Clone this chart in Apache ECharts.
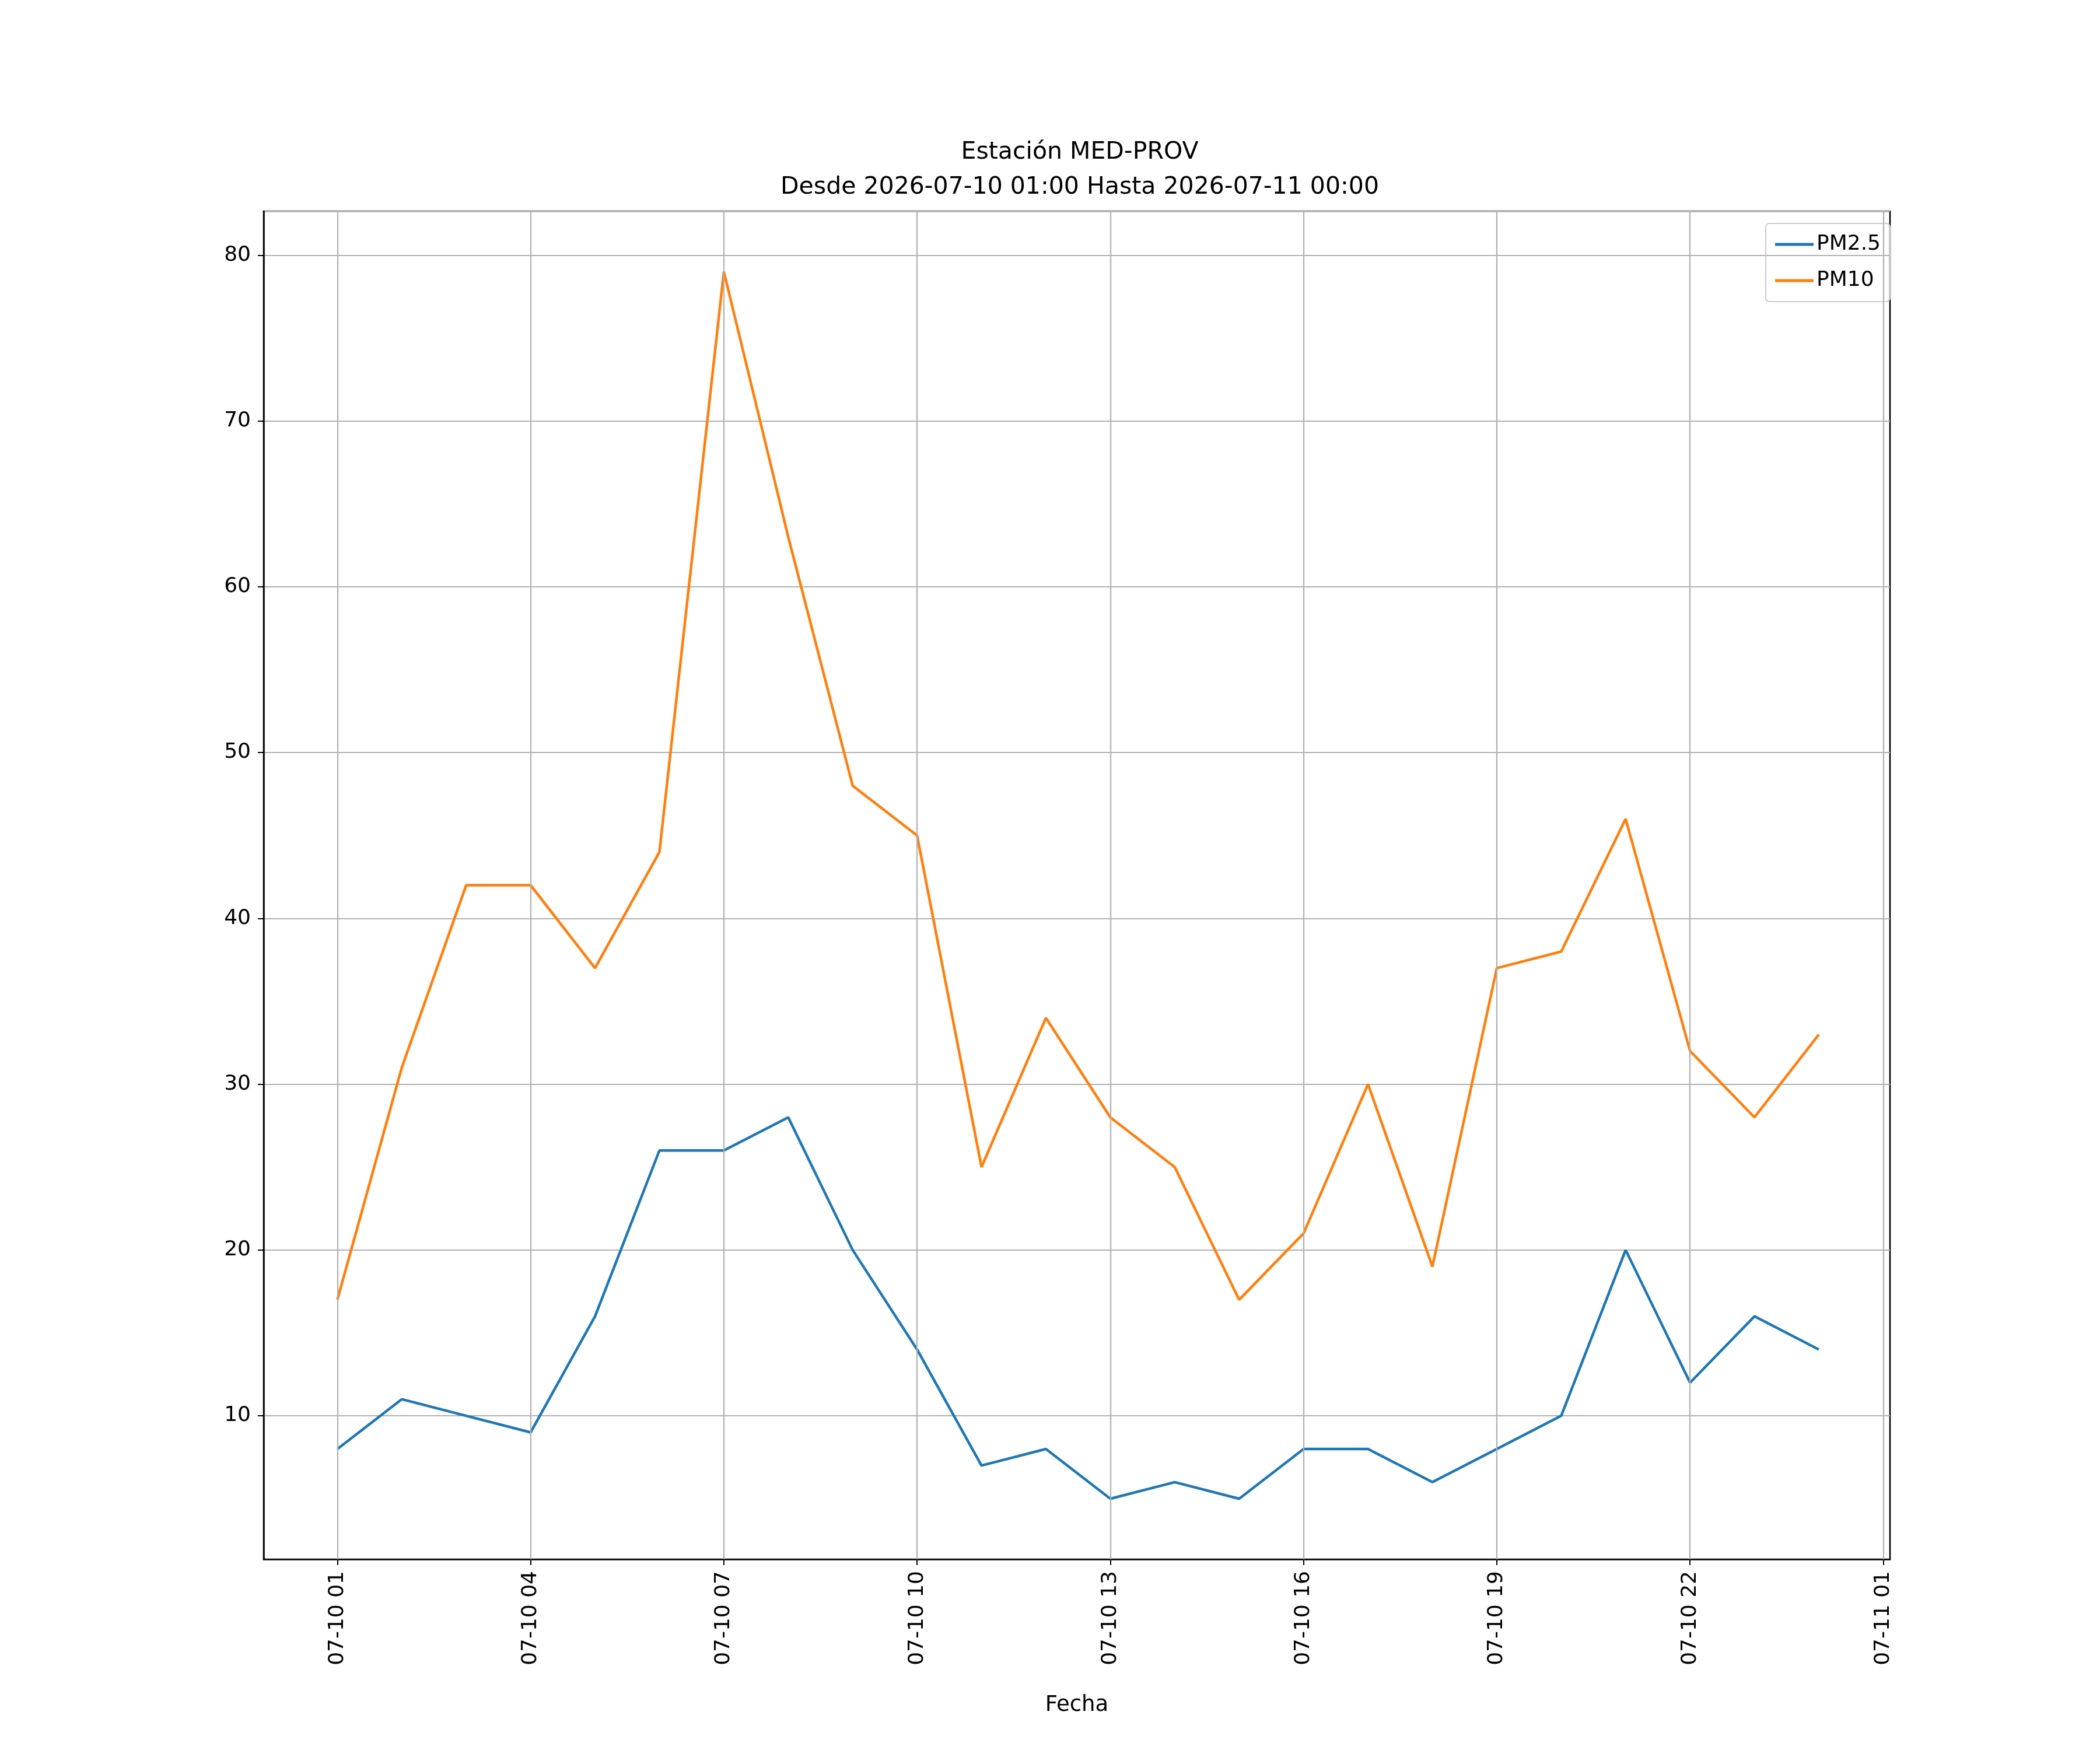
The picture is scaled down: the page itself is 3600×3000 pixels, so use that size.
<!DOCTYPE html>
<html lang="es">
<head>
<meta charset="UTF-8">
<title>Estación MED-PROV</title>
<script src="https://cdn.jsdelivr.net/npm/echarts@6/dist/echarts.min.js"></script>
</head>
<body style="margin:0;background:#fff">
<div id="main" style="width:3600px;height:3000px"></div>
<script>
// horas desde 2026-07-10 00:00
var hours = [1,2,3,4,5,6,7,8,9,10,11,12,13,14,15,16,17,18,19,20,21,22,23,24];
var pm25 = [8,11,10,9,16,26,26,28,20,14,7,8,5,6,5,8,8,6,8,10,20,12,16,14];
var pm10 = [17,31,42,42,37,44,79,63,48,45,25,34,28,25,17,21,30,19,37,38,46,32,28,33];
var tickHours = [1,4,7,10,13,16,19,22,25];

function pad(n){ return (n < 10 ? '0' : '') + n; }
function hourLabel(v){ return v > 24 ? '07-11 ' + pad(v - 24) : '07-10 ' + pad(v); }
function pairs(arr){ return hours.map(function(h, i){ return [h, arr[i]]; }); }

var font = 'DejaVu Sans';
var chart = echarts.init(document.getElementById('main'));
chart.setOption({
    animation: false,
    textStyle: { fontFamily: font },
    title: {
        text: 'Estación MED-PROV\nDesde 2026-07-10 01:00 Hasta 2026-07-11 00:00',
        left: 1846, top: 226, textAlign: 'center',
        textStyle: { fontSize: 41, fontWeight: 'normal', color: '#000', lineHeight: 60, fontFamily: font }
    },
    legend: {
        orient: 'vertical', right: 360, top: 383,
        itemWidth: 66, itemHeight: 5, itemGap: 26, icon: 'rect',
        padding: [18, 16, 18, 16],
        borderColor: '#cccccc', borderWidth: 2, borderRadius: 6,
        textStyle: { fontSize: 36, color: '#000', fontFamily: font },
        data: ['PM2.5', 'PM10']
    },
    grid: { left: 452, top: 362, width: 2788, height: 2311, show: true, borderColor: '#000', borderWidth: 2.5 },
    xAxis: {
        type: 'value', min: -0.144, max: 25.104,
        name: 'Fecha', nameLocation: 'middle', nameGap: 232,
        nameTextStyle: { fontSize: 37, color: '#000', fontFamily: font },
        axisLine: { onZero: false, lineStyle: { color: '#000', width: 2.5 } },
        axisTick: { customValues: tickHours, length: 10, lineStyle: { color: '#000', width: 2 } },
        axisLabel: { customValues: tickHours, rotate: 90, fontSize: 36, color: '#000', margin: 20, formatter: hourLabel },
        splitLine: { show: false }
    },
    yAxis: {
        type: 'value', min: 1.35, max: 82.65, splitNumber: 8,
        axisLine: { show: true, onZero: false, lineStyle: { color: '#000', width: 2.5 } },
        axisTick: { show: true, length: 10, lineStyle: { color: '#000', width: 2 } },
        axisLabel: { fontSize: 36, color: '#000', margin: 22, showMinLabel: false, showMaxLabel: false },
        splitLine: { show: true, lineStyle: { color: '#b0b0b0', width: 2.2 } }
    },
    series: [
        {
            name: 'PM2.5', type: 'line', data: pairs(pm25), showSymbol: false,
            color: '#1f77b4', lineStyle: { width: 4.5 },
            markLine: {
                silent: true, symbol: 'none', label: { show: false },
                lineStyle: { color: '#b0b0b0', width: 2.2, type: 'solid' },
                data: tickHours.map(function(h){ return { xAxis: h }; })
            }
        },
        {
            name: 'PM10', type: 'line', data: pairs(pm10), showSymbol: false,
            color: '#ff7f0e', lineStyle: { width: 4.5 }
        }
    ]
});
</script>
</body>
</html>
